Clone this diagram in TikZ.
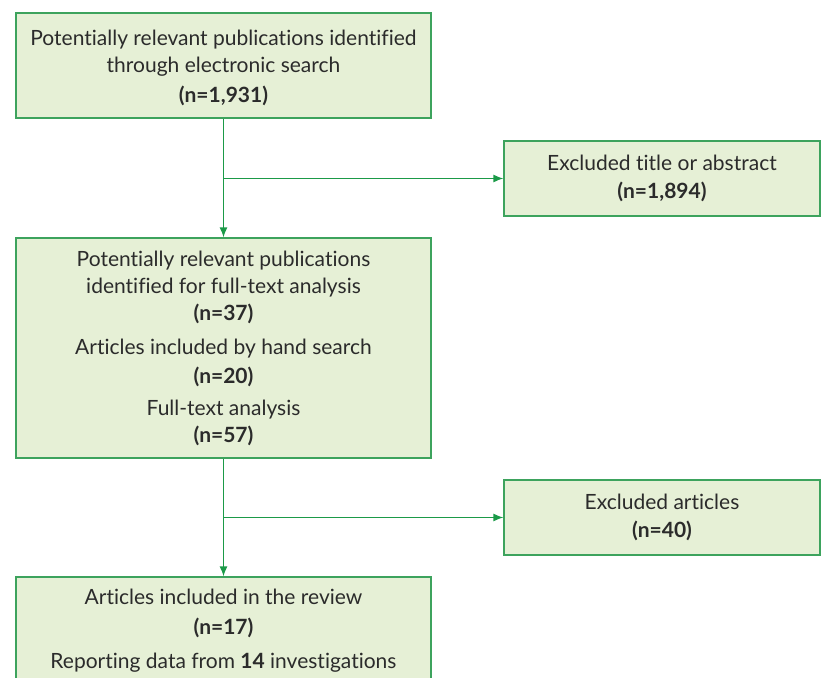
\documentclass[tikz,border=0pt]{standalone}
\usepackage{fontspec}
\setmainfont[Ligatures=NoCommon]{Lato}
\usepackage{tikz}
\usetikzlibrary{arrows.meta,positioning,calc}
\definecolor{Ink}{HTML}{2B2B2B}
\definecolor{BoxFill}{HTML}{E6F0D6}
\definecolor{BoxLine}{HTML}{3DA35D}
\definecolor{Flow}{HTML}{1B9A48}
\tikzset{
  box/.style={draw=BoxLine,fill=BoxFill,line width=1.2pt,align=center,inner sep=0pt,text=Ink,
    font=\fontsize{21}{27}\selectfont},
  mainbox/.style={box,minimum width=415pt},
  sidebox/.style={box,minimum width=316pt,minimum height=75pt},
  arrow/.style={-{Latex[length=10pt,width=8pt]},line width=1.3pt,draw=Flow}
}
\begin{document}
\begin{tikzpicture}[x=1pt,y=1pt]
  \useasboundingbox (0,0) rectangle (821,677);

  \node[mainbox,minimum height=105pt] (search) at (223.5,611.5)
    {\rule{0pt}{21pt}Potentially relevant publications identified\\through electronic search\\[3pt]\textbf{(n=1,931)}};
  \node[sidebox] (title) at (662,498.5)
    {Excluded title or abstract\\[1pt]\textbf{(n=1,894)}};
  \node[mainbox,minimum height=220pt] (full) at (223.5,329)
    {Potentially relevant publications\\identified for full-text analysis\\\textbf{(n=37)}\\[7pt]
     Articles included by hand search\\[2pt]\textbf{(n=20)}\\[5pt]
     Full-text analysis\\\textbf{(n=57)}};
  \node[sidebox] (articles) at (662,159.5)
    {Excluded articles\\[1pt]\textbf{(n=40)}};
  \node[mainbox,minimum height=107pt] (review) at (223.5,46.5)
    {Articles included in the review\\[3pt]\textbf{(n=17)}\\[7pt]
     Reporting data from \textbf{14} investigations};

  % main flow
  \draw[arrow] (search.south) -- (full.north);
  \draw[arrow] (search.south |- title.west) -- (title.west);
  \draw[arrow] (full.south) -- (review.north);
  \draw[arrow] (full.south |- articles.west) -- (articles.west);
\end{tikzpicture}
\end{document}
